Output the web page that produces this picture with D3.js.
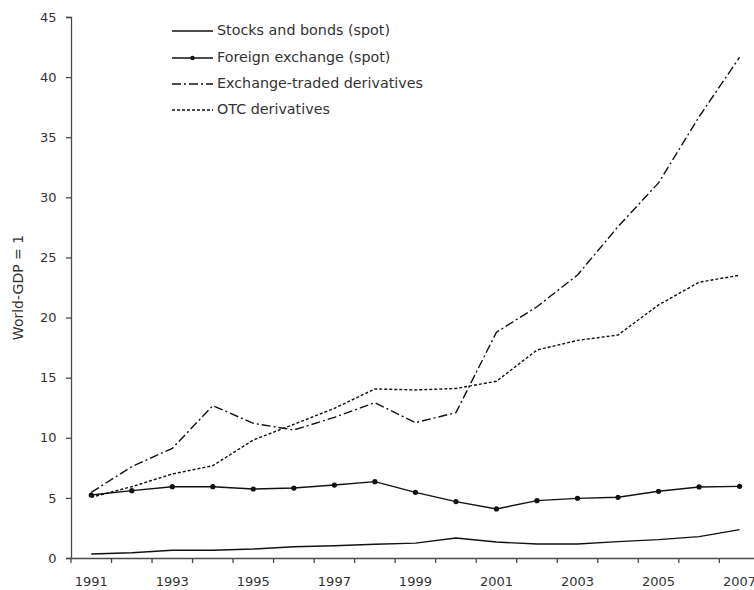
<!DOCTYPE html>
<html>
<head>
<meta charset="utf-8">
<script src="https://cdn.jsdelivr.net/npm/d3@7"></script>
<style>
  body { margin: 0; background: #fff; }
  svg { display: block; font-family: "DejaVu Sans", sans-serif; }
</style>
</head>
<body>
<svg id="chart"></svg>
<script>
// Datos
const years = d3.range(1991, 2008);
const stocksBonds = [0.33, 0.44, 0.64, 0.64, 0.75, 0.94, 1.02, 1.14, 1.24, 1.66, 1.33, 1.16, 1.16, 1.36, 1.53, 1.78, 2.36];
const foreignExchange = [5.24, 5.6, 5.93, 5.93, 5.74, 5.82, 6.07, 6.35, 5.46, 4.69, 4.08, 4.77, 4.96, 5.05, 5.55, 5.91, 5.96];
const exchangeTraded = [5.46, 7.6, 9.12, 12.67, 11.2, 10.65, 11.7, 12.92, 11.26, 12.09, 18.78, 20.9, 23.54, 27.56, 31.2, 36.7, 41.65];
const otcDerivatives = [5.05, 5.93, 6.99, 7.68, 9.82, 11.12, 12.45, 14.06, 13.98, 14.1, 14.7, 17.3, 18.1, 18.55, 21.05, 22.94, 23.52];
const yTicks = [0, 5, 10, 15, 20, 25, 30, 35, 40, 45];
const seriesNames = ["Stocks and bonds (spot)", "Foreign exchange (spot)", "Exchange-traded derivatives", "OTC derivatives"];

const width = 754;
const height = 590;
const axisColor = "#4a4a4a";
const textColor = "#333";

const svg = d3.select("#chart")
    .attr("width", width)
    .attr("height", height);

// Escalas
const x = d3.scaleBand()
    .domain(years)
    .range([71, 71 + 17 * 40.52]);

const y = d3.scaleLinear()
    .domain([0, 45])
    .range([558, 17]);

// Eje Y
const yAxis = svg.append("g")
    .attr("transform", "translate(71,0)")
    .call(d3.axisLeft(y).tickValues(yTicks).tickSize(5).tickPadding(9.5));
yAxis.select(".domain").attr("stroke", axisColor).attr("stroke-width", 1.3);
yAxis.selectAll(".tick line").attr("stroke", axisColor).attr("stroke-width", 1.3);
yAxis.selectAll("text").attr("font-size", 13).attr("fill", textColor).attr("font-family", "DejaVu Sans");

// Eje X: etiquetas en el centro, marcas en los bordes de cada categoría
const xAxis = svg.append("g")
    .attr("transform", "translate(0,558)")
    .call(d3.axisBottom(x).tickSize(0).tickPadding(19)
        .tickFormat(d => (d % 2 === 1 ? String(d) : "")));
xAxis.select(".domain").attr("stroke", axisColor).attr("stroke-width", 1.3);
xAxis.selectAll("text").attr("font-size", 13).attr("fill", textColor).attr("font-family", "DejaVu Sans");

svg.append("g")
    .selectAll("line")
    .data(years)
    .enter().append("line")
    .attr("x1", d => x(d))
    .attr("x2", d => x(d))
    .attr("y1", 558)
    .attr("y2", 563)
    .attr("stroke", axisColor)
    .attr("stroke-width", 1.3);

// Título del eje Y
svg.append("text")
    .attr("transform", `translate(19,${(y(0) + y(45)) / 2}) rotate(-90)`)
    .attr("text-anchor", "middle")
    .attr("dominant-baseline", "middle")
    .attr("font-size", 14)
    .attr("fill", textColor)
    .text("World-GDP = 1");

// Series
const styles = [
    { values: stocksBonds, dash: null, marker: false },
    { values: foreignExchange, dash: null, marker: true },
    { values: exchangeTraded, dash: "9,3,2,3", marker: false },
    { values: otcDerivatives, dash: "3,2", marker: false }
];

const line = d3.line()
    .x((d, i) => x(years[i]) + x.bandwidth() / 2)
    .y(d => y(d));

styles.forEach(s => {
    svg.append("path")
        .datum(s.values)
        .attr("d", line)
        .attr("fill", "none")
        .attr("stroke", "#111")
        .attr("stroke-width", 1.4)
        .attr("stroke-dasharray", s.dash);

    if (s.marker) {
        svg.append("g")
            .selectAll("circle")
            .data(s.values)
            .enter().append("circle")
            .attr("cx", (d, i) => x(years[i]) + x.bandwidth() / 2)
            .attr("cy", d => y(d))
            .attr("r", 2.6)
            .attr("fill", "#111");
    }
});

// Leyenda
const legend = svg.append("g");
const legendY = [31, 58, 84, 110];

seriesNames.forEach((name, i) => {
    const s = styles[i];
    legend.append("line")
        .attr("x1", 172)
        .attr("x2", 213)
        .attr("y1", legendY[i])
        .attr("y2", legendY[i])
        .attr("stroke", "#111")
        .attr("stroke-width", 1.4)
        .attr("stroke-dasharray", s.dash);
    if (s.marker) {
        legend.append("circle")
            .attr("cx", 192.5)
            .attr("cy", legendY[i])
            .attr("r", 2.2)
            .attr("fill", "#111");
    }
    legend.append("text")
        .attr("x", 217)
        .attr("y", legendY[i])
        .attr("dominant-baseline", "middle")
        .attr("font-size", 14.3)
        .attr("fill", textColor)
        .text(name);
});
</script>
</body>
</html>
